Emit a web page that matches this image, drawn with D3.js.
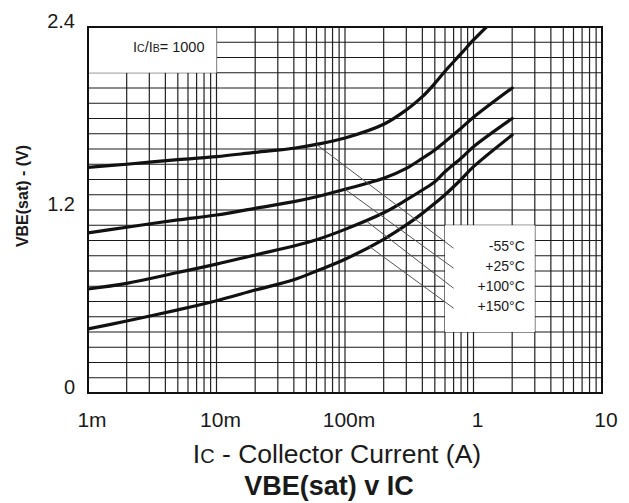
<!DOCTYPE html>
<html>
<head>
<meta charset="utf-8">
<script src="https://cdn.jsdelivr.net/npm/d3@7"></script>
<style>
  html, body { margin: 0; padding: 0; background: #fff; }
  svg { display: block; }
  text { font-family: "Liberation Sans", Arial, Helvetica, sans-serif; fill: #1a1a1a; }
</style>
</head>
<body>
<svg id="chart" width="629" height="503"></svg>
<script>
// VBE(sat) versus collector current, IC/IB = 1000, four junction temperatures
const tempLabels = ["-55°C", "+25°C", "+100°C", "+150°C"];

const icM55 = [0.001, 0.002, 0.005, 0.01, 0.02, 0.04, 0.06, 0.1, 0.2, 0.3, 0.4, 0.5, 0.6, 0.8, 1, 1.26];
const vbeM55 = [1.48, 1.50, 1.53, 1.55, 1.578, 1.605, 1.63, 1.672, 1.762, 1.856, 1.943, 2.03, 2.11, 2.225, 2.315, 2.40];

const icStd = [0.001, 0.002, 0.005, 0.01, 0.02, 0.04, 0.06, 0.1, 0.2, 0.3, 0.4, 0.5, 0.6, 0.8, 1, 2];
const vbeP25 = [1.05, 1.087, 1.135, 1.167, 1.211, 1.255, 1.287, 1.336, 1.408, 1.473, 1.539, 1.593, 1.648, 1.736, 1.808, 2.0];
const vbeP100 = [0.682, 0.719, 0.79, 0.845, 0.905, 0.964, 1.005, 1.073, 1.182, 1.266, 1.331, 1.386, 1.451, 1.539, 1.615, 1.80];
const vbeP150 = [0.42, 0.472, 0.545, 0.605, 0.675, 0.743, 0.80, 0.877, 1.008, 1.102, 1.178, 1.244, 1.30, 1.40, 1.484, 1.692];

// leader lines tying each curve to its legend entry
const leaderFromA = [0.06, 0.1, 0.148, 0.152];
const leaderFromV = [1.63, 1.336, 1.125, 0.965];
const leaderToA = [0.7, 0.7, 0.7, 0.7];
const leaderToV = [0.949, 0.818, 0.687, 0.556];

const xTickValues = [0.001, 0.01, 0.1, 1, 10];
const xTickLabels = ["1m", "10m", "100m", "1", "10"];
const yTickValues = [0, 1.2, 2.4];
const yTickLabels = ["0", "1.2", "2.4"];

const series = [
  { label: tempLabels[0], ic: icM55, v: vbeM55 },
  { label: tempLabels[1], ic: icStd, v: vbeP25 },
  { label: tempLabels[2], ic: icStd, v: vbeP100 },
  { label: tempLabels[3], ic: icStd, v: vbeP150 }
];

const margin = { left: 88, top: 27, right: 27, bottom: 110 };
const W = 629, H = 503;
const pw = W - margin.left - margin.right;   // 514
const ph = H - margin.top - margin.bottom;   // 366

const svg = d3.select("#chart");
const g = svg.append("g").attr("transform", `translate(${margin.left},${margin.top})`);

const x = d3.scaleLog().domain([0.001, 10]).range([0, pw]);
const y = d3.scaleLinear().domain([0, 2.4]).range([ph, 0]);

// grid: 1..9 per decade, 0.1 V steps
const xGrid = [];
for (let e = -3; e <= 0; e++) for (let k = 1; k <= 9; k++) xGrid.push(k * Math.pow(10, e));
xGrid.push(10);
const yGrid = d3.range(0, 25).map(i => i / 10);

const grid = g.append("g");
grid.selectAll("line.v").data(xGrid).enter().append("line")
  .attr("x1", d => x(d)).attr("x2", d => x(d))
  .attr("y1", 0).attr("y2", ph)
  .attr("stroke", "#222").attr("stroke-width", 1.2);
grid.selectAll("line.h").data(yGrid).enter().append("line")
  .attr("x1", 0).attr("x2", pw)
  .attr("y1", d => y(d)).attr("y2", d => y(d))
  .attr("stroke", "#1a1a1a").attr("stroke-width", 1.2);

// white panels behind the annotation texts
g.append("rect")
  .attr("x", x(0.001)).attr("y", y(2.4))
  .attr("width", x(0.01) - x(0.001)).attr("height", y(2.1) - y(2.4))
  .attr("fill", "#fff");
g.append("rect")
  .attr("x", x(0.6)).attr("y", y(1.1))
  .attr("width", x(3) - x(0.6)).attr("height", y(0.4) - y(1.1))
  .attr("fill", "#fff");

// frame
g.append("rect")
  .attr("x", 0).attr("y", 0).attr("width", pw).attr("height", ph)
  .attr("fill", "none").attr("stroke", "#111").attr("stroke-width", 2);

// curves
g.append("clipPath").attr("id", "plotclip")
  .append("rect").attr("x", 0).attr("y", 0).attr("width", pw).attr("height", ph);

const line = d3.line()
  .x(d => x(d[0]))
  .y(d => y(d[1]))
  .curve(d3.curveCatmullRom.alpha(0.5));

g.append("g").attr("clip-path", "url(#plotclip)")
  .selectAll("path").data(series).enter().append("path")
  .attr("d", s => line(s.ic.map((c, i) => [c, s.v[i]])))
  .attr("fill", "none")
  .attr("stroke", "#111")
  .attr("stroke-width", 3.2)
  .attr("stroke-linecap", "round");

// leader lines
g.selectAll("line.leader").data(leaderFromA).enter().append("line")
  .attr("x1", (d, i) => x(d)).attr("y1", (d, i) => y(leaderFromV[i]))
  .attr("x2", (d, i) => x(leaderToA[i])).attr("y2", (d, i) => y(leaderToV[i]))
  .attr("stroke", "#555").attr("stroke-width", 1);

// legend texts
g.selectAll("text.temp").data(tempLabels).enter().append("text")
  .attr("x", x(3) - 10)
  .attr("y", (d, i) => y(leaderToV[i]) + 3)
  .attr("text-anchor", "end")
  .attr("font-size", 14)
  .text(d => d);

// IC/IB = 1000
const ratio = g.append("text")
  .attr("x", x(0.001) + 45).attr("y", y(2.4) + 25)
  .attr("font-size", 14.5);
ratio.append("tspan").text("I");
ratio.append("tspan").attr("font-size", 10.5).text("C");
ratio.append("tspan").text("/I");
ratio.append("tspan").attr("font-size", 10.5).text("B");
ratio.append("tspan").text("= 1000");

// axis tick labels
g.selectAll("text.xt").data(xTickValues).enter().append("text")
  .attr("x", d => x(d) + 4)
  .attr("y", ph + 34)
  .attr("text-anchor", "middle")
  .attr("font-size", 21)
  .text((d, i) => xTickLabels[i]);

g.selectAll("text.yt").data(yTickValues).enter().append("text")
  .attr("x", -13)
  .attr("y", d => y(d) + 1)
  .attr("text-anchor", "end")
  .attr("font-size", 20)
  .text((d, i) => yTickLabels[i]);

// x axis title
const xt = svg.append("text")
  .attr("x", 337).attr("y", 463)
  .attr("text-anchor", "middle")
  .attr("font-size", 26.5);
xt.append("tspan").text("I");
xt.append("tspan").attr("font-size", 20).text("C");
xt.append("tspan").text(" - Collector Current (A)");

// y axis title
svg.append("text")
  .attr("transform", "translate(28,196) rotate(-90)")
  .attr("text-anchor", "middle")
  .attr("font-size", 16)
  .attr("font-weight", "bold")
  .text("VBE(sat) - (V)");

// chart title
svg.append("text")
  .attr("x", 329).attr("y", 495)
  .attr("text-anchor", "middle")
  .attr("font-size", 27)
  .attr("font-weight", "bold")
  .text("VBE(sat) v IC");
</script>
</body>
</html>
